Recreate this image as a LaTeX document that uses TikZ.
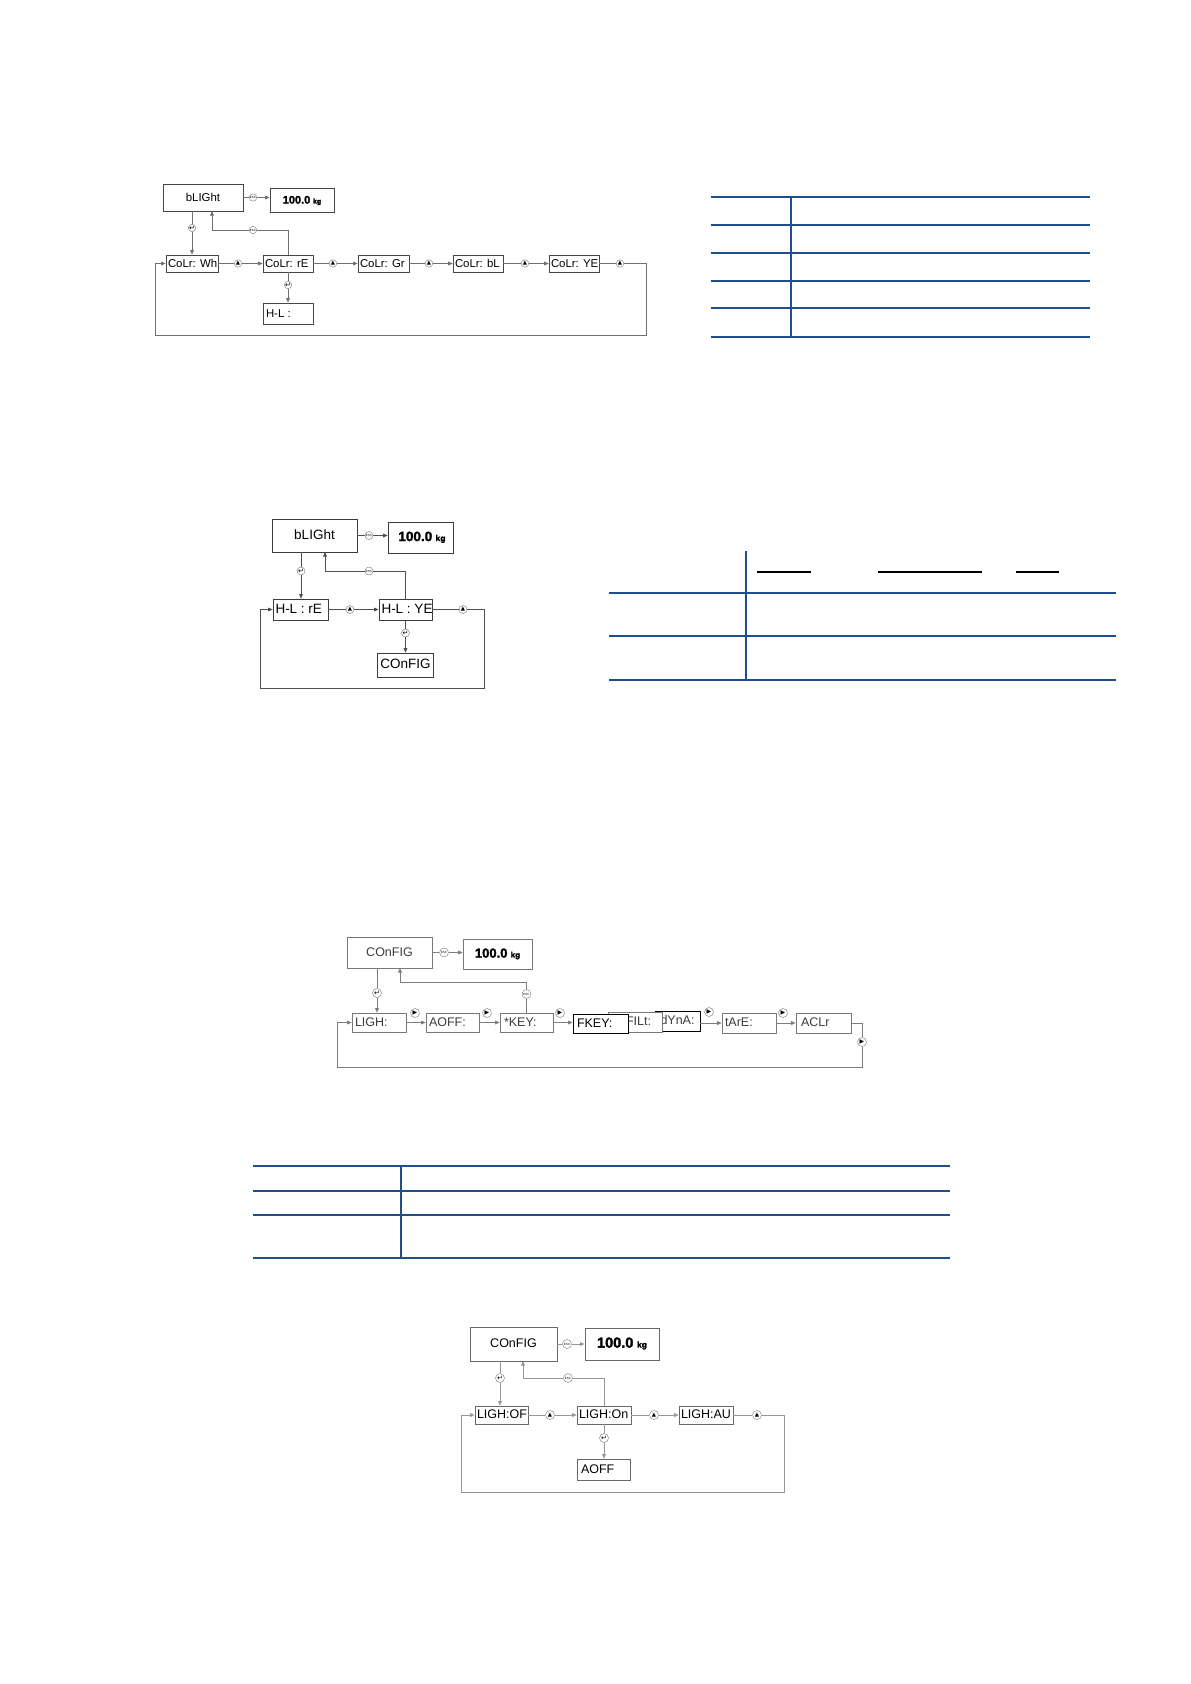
\documentclass[tikz,border=0pt]{standalone}
\usepackage{fontspec}
\setmainfont{Liberation Sans}
\newfontfamily\symfont{DejaVu Sans}
\usetikzlibrary{arrows.meta}
\definecolor{tblue}{RGB}{31,78,140}
\definecolor{boxA}{RGB}{70,70,70}
\definecolor{wireA}{RGB}{112,112,112}
\definecolor{boxB}{RGB}{60,60,60}
\definecolor{wireB}{RGB}{80,80,80}
\definecolor{boxC}{RGB}{120,120,120}
\definecolor{wireC}{RGB}{125,125,125}
\definecolor{boxD}{RGB}{105,105,105}
\definecolor{wireD}{RGB}{150,150,150}
\definecolor{circ}{RGB}{130,130,130}
\definecolor{txtC}{RGB}{60,60,60}
\newcommand\escsym{{\fontsize{3}{3}\selectfont ESC}}
\newcommand\upsym{{\symfont\fontsize{5.5}{5.5}\selectfont ▲}}
\newcommand\rtsym{{\symfont\fontsize{6}{6}\selectfont ▶}}
\newcommand\entsym{{\symfont\fontsize{7}{7}\selectfont ↵}}
\newcommand\ltxt[2]{\hbox to #1{#2\hss}}
\newcommand\kgt[2]{{\fontsize{#1}{#1}\selectfont\bfseries\addfontfeature{FakeBold=2}100.0\hspace{0.25em}{\fontsize{#2}{#2}\selectfont kg}}}
\tikzset{
  bx/.style={draw=#1, fill=white, line width=0.8pt, inner xsep=3pt, inner ysep=0pt, text height=0.72em, text depth=0pt},
  bx/.default=boxA,
  wire/.style={draw=#1, line width=0.7pt},
  wire/.default=wireA,
  arr/.style={draw=#1, line width=0.7pt, -{Triangle[length=4.5pt,width=3.8pt]}},
  arr/.default=wireA,
  sym/.style={circle, draw=circ, fill=white, line width=0.45pt, inner sep=0pt, minimum size=#1},
  sym/.default=8pt,
  tline/.style={draw=tblue, line width=#1},
}
\begin{document}
\begin{tikzpicture}[x=1pt,y=-1pt]
\fill[white] (0,0) rectangle (1191,1684);
\path[use as bounding box] (0,0) rectangle (1191,1684);

% ---------------- Diagram 1 ----------------
\begin{scope}[font=\fontsize{11.4}{12}\selectfont]
\node[bx, minimum width=80pt, minimum height=27pt] (bl1) at (203,197.5) {bLIGht};
\node[bx, minimum width=64pt, minimum height=24pt] (kg1) at (302,200) {\kgt{11}{7}};
\node[bx, inner xsep=2pt, minimum height=17pt] (wh) at (192,263.5) {\ltxt{48pt}{CoLr: Wh}};
\node[bx, inner xsep=2pt, minimum height=17pt] (re) at (288,263.5) {\ltxt{46pt}{CoLr: rE}};
\node[bx, inner xsep=2pt, minimum height=17pt] (gr) at (383.5,263.5) {\ltxt{47pt}{CoLr: Gr}};
\node[bx, inner xsep=2pt, minimum height=17pt] (bL) at (478,263.5) {\ltxt{46pt}{CoLr: bL}};
\node[bx, inner xsep=2pt, minimum height=17pt] (ye) at (574,263.5) {\ltxt{46pt}{CoLr: YE}};
\node[bx, inner xsep=3pt, minimum height=21pt] (hl) at (288,313.5) {\ltxt{44pt}{H-L :}};
\end{scope}
\node[sym=7.5pt] (esc1) at (253,197.5) {\escsym};
\node[sym=7.5pt] (e1) at (192,228) {\entsym};
\node[sym=7.5pt] (escb1) at (253,230) {\escsym};
\node[sym=7.5pt] (u1) at (238,263.5) {\upsym};
\node[sym=7.5pt] (u2) at (333,263.5) {\upsym};
\node[sym=7.5pt] (u3) at (429,263.5) {\upsym};
\node[sym=7.5pt] (u4) at (525,263.5) {\upsym};
\node[sym=7.5pt] (u5) at (620,263.5) {\upsym};
\node[sym=7.5pt] (e2) at (288,285) {\entsym};
\coordinate (bt1) at (212,211);
\coordinate (rb1) at (646,335);
\coordinate (lb1) at (155,335);
\draw[wire] (bl1) -- (esc1);
\draw[arr] (esc1) -- (esc1 -| kg1.west);
\draw[wire] (e1 |- bl1.south) -- (e1);
\draw[arr] (e1) -- (e1 |- wh.north);
\draw[wire] (re.north) |- (escb1);
\draw[arr] (escb1) -| (bt1);
\draw[wire] (wh) -- (u1); \draw[arr] (u1) -- (re);
\draw[wire] (re) -- (u2); \draw[arr] (u2) -- (gr);
\draw[wire] (gr) -- (u3); \draw[arr] (u3) -- (bL);
\draw[wire] (bL) -- (u4); \draw[arr] (u4) -- (ye);
\draw[wire] (ye) -- (u5);
\draw[arr] (u5) -| (rb1) -- (lb1) |- (wh);
\draw[wire] (re) -- (e2);
\draw[arr] (e2) -- (hl);

% ---------------- Table 1 ----------------
\foreach \yy in {197,225,253,281,308,337} \draw[tline=1.2pt] (711,\yy) -- (1090,\yy);
\draw[tline=2pt] (791,197) -- (791,337);

% ---------------- Diagram 2 ----------------
\begin{scope}[font=\fontsize{13.5}{14}\selectfont]
\node[bx=boxB, minimum width=85pt, minimum height=33pt] (bl2) at (314.5,535.5) {bLIGht};
\node[bx=boxB, minimum width=65pt, minimum height=31pt] (kg2) at (420.5,537.5) {\hspace*{3pt}\kgt{13.5}{8.5}};
\node[bx=boxB, inner xsep=2.5pt, minimum height=21pt] (hr) at (300.5,609.5) {\ltxt{50pt}{H-L : rE}};
\node[bx=boxB, inner xsep=2.5pt, minimum height=21pt] (hy) at (405.5,609.5) {\ltxt{48pt}{H-L : YE}};
\node[bx=boxB, minimum width=53pt, minimum height=24pt] (cf2) at (405.5,665) {COnFIG};
\end{scope}
\node[sym] (esc2) at (369,535.5) {\escsym};
\node[sym] (e3) at (301,571) {\entsym};
\node[sym] (escb2) at (369,571) {\escsym};
\node[sym] (u6) at (350,609.5) {\upsym};
\node[sym] (u7) at (463,609.5) {\upsym};
\node[sym] (e4) at (405.5,633) {\entsym};
\coordinate (bt2) at (325,552);
\coordinate (rb2) at (484,688);
\coordinate (lb2) at (260,688);
\draw[wire=wireB] (bl2) -- (esc2);
\draw[arr=wireB] (esc2) -- (esc2 -| kg2.west);
\draw[wire=wireB] (e3 |- bl2.south) -- (e3);
\draw[arr=wireB] (e3) -- (e3 |- hr.north);
\draw[wire=wireB] (hy.north) |- (escb2);
\draw[arr=wireB] (escb2) -| (bt2);
\draw[wire=wireB] (hr) -- (u6); \draw[arr=wireB] (u6) -- (hy);
\draw[wire=wireB] (hy) -- (u7);
\draw[arr=wireB] (u7) -| (rb2) -- (lb2) |- (hr);
\draw[wire=wireB] (hy) -- (e4);
\draw[arr=wireB] (e4) -- (cf2);

% ---------------- Table 2 ----------------
\draw[tline=1.8pt] (746,551) -- (746,680);
\draw[tline=1.8pt] (609,593) -- (1116,593);
\draw[tline=1.8pt] (609,636) -- (1116,636);
\draw[tline=1.2pt] (609,680) -- (1116,680);
\draw[line width=1.8pt] (757,572) -- (811,572);
\draw[line width=1.8pt] (878,572) -- (982,572);
\draw[line width=1.8pt] (1016,572) -- (1059,572);

% ---------------- Diagram 3 ----------------
\begin{scope}[font=\fontsize{12.5}{13}\selectfont, text=txtC]
\node[bx=boxC, minimum width=85pt, minimum height=31pt] (cf3) at (389.5,952.5) {COnFIG};
\node[bx=boxC, minimum width=69pt, minimum height=30pt, text=black] (kg3) at (497.5,954) {\kgt{13}{8}};
\node[bx=boxC, inner xsep=3pt, minimum height=19pt] (lg) at (379,1022.5) {\ltxt{48pt}{LIGH:}};
\node[bx=boxC, inner xsep=3pt, minimum height=19pt] (ao) at (452.5,1022.5) {\ltxt{47pt}{AOFF:}};
\node[bx=boxC, inner xsep=4pt, minimum height=19pt] (ky) at (526.5,1022.5) {\ltxt{45pt}{*KEY:}};
\node[bx=black, inner xsep=3pt, minimum height=20pt] (dy) at (677.5,1021) {\ltxt{39pt}{\hspace*{2.5pt}dYnA:}};
\node[bx=boxC, inner xsep=2pt, minimum height=20pt] (fl) at (635,1022) {\ltxt{50pt}{\hspace*{16pt}FILt:}};
\node[bx=black, inner xsep=4pt, minimum height=19pt, text=black] (fk) at (600.5,1023.5) {\ltxt{47pt}{FKEY:}};
\node[bx=boxC, inner xsep=3pt, minimum height=20pt] (ta) at (749,1023) {\ltxt{48pt}{tArE:}};
\node[bx=boxC, inner xsep=5pt, minimum height=20pt] (ac) at (823.5,1023) {\ltxt{45pt}{ACLr}};
\end{scope}
\node[sym=9pt] (esc3) at (444,952.5) {\escsym};
\node[sym=9pt] (e5) at (377,993) {\entsym};
\node[sym=9pt] (escc3) at (526.5,994) {\escsym};
\node[sym=9pt] (r1) at (415,1013) {\rtsym};
\node[sym=9pt] (r2) at (487,1013) {\rtsym};
\node[sym=9pt] (r3) at (560,1013) {\rtsym};
\node[sym=9pt] (r4) at (709,1012) {\rtsym};
\node[sym=9pt] (r5) at (783,1013) {\rtsym};
\coordinate (k3) at (400,982);
\coordinate (bt3) at (400,968);
\coordinate (rb3) at (862,1067);
\coordinate (lb3) at (337,1067);
\draw[wire=wireC] (cf3) -- (esc3);
\draw[arr=wireC] (esc3) -- (esc3 -| kg3.west);
\draw[wire=wireC] (e5 |- cf3.south) -- (e5);
\draw[arr=wireC] (e5) -- (e5 |- lg.north);
\draw[wire=wireC] (ky.north) -- (escc3);
\draw[arr=wireC] (escc3) |- (k3) -- (bt3);
\draw[arr=wireC] (lg) -- (ao);
\draw[arr=wireC] (ao) -- (ky);
\draw[arr=wireC] (ky) -- (fk.west |- ky);
\draw[arr=wireC] (dy.east |- ta) -- (ta);
\draw[arr=wireC] (ta) -- (ac);
\node[sym=9pt] (r6) at (862,1042) {\rtsym};
\draw[wire=wireC] (ac) -| (r6);
\draw[arr=wireC] (r6) -- (rb3) -- (lb3) |- (lg);

% ---------------- Table 3 ----------------
\draw[tline=1.2pt] (253,1166) -- (950,1166);
\draw[tline=2.6pt] (253,1191) -- (950,1191);
\draw[tline=1.2pt] (253,1215) -- (950,1215);
\draw[tline=1.2pt] (253,1258) -- (950,1258);
\draw[tline=1.2pt] (401,1166) -- (401,1258);

% ---------------- Diagram 4 ----------------
\begin{scope}[font=\fontsize{12.5}{13}\selectfont]
\node[bx=boxD, minimum width=87pt, minimum height=34pt] (cf4) at (513.5,1344) {COnFIG};
\node[bx=boxD, minimum width=74pt, minimum height=32pt] (kg4) at (622,1344) {\kgt{14.5}{8.5}};
\node[bx=boxD, inner xsep=2pt, minimum height=18pt] (lo) at (501.5,1415) {\ltxt{49pt}{LIGH:OF}};
\node[bx=boxD, inner xsep=2pt, minimum height=18pt] (lon) at (604,1415) {\ltxt{50pt}{LIGH:On}};
\node[bx=boxD, inner xsep=2pt, minimum height=18pt] (la) at (706,1415) {\ltxt{50pt}{LIGH:AU}};
\node[bx=boxD, inner xsep=4pt, minimum height=21pt] (ao4) at (603.5,1469.5) {\ltxt{45pt}{AOFF}};
\end{scope}
\node[sym=9pt] (esc4) at (567,1344) {\escsym};
\node[sym=9pt] (e6) at (500,1378) {\entsym};
\node[sym=9pt] (escb4) at (568,1378) {\escsym};
\node[sym=9pt] (u8) at (550,1415) {\upsym};
\node[sym=9pt] (u9) at (654,1415) {\upsym};
\node[sym=9pt] (u10) at (757,1415) {\upsym};
\node[sym=9pt] (e7) at (604,1438) {\entsym};
\coordinate (bt4) at (523,1361);
\coordinate (rb4) at (784,1492);
\coordinate (lb4) at (461,1492);
\draw[wire=wireD] (cf4) -- (esc4);
\draw[arr=wireD] (esc4) -- (esc4 -| kg4.west);
\draw[wire=wireD] (e6 |- cf4.south) -- (e6);
\draw[arr=wireD] (e6) -- (e6 |- lo.north);
\draw[wire=wireD] (lon.north) |- (escb4);
\draw[arr=wireD] (escb4) -| (bt4);
\draw[wire=wireD] (lo) -- (u8); \draw[arr=wireD] (u8) -- (lon);
\draw[wire=wireD] (lon) -- (u9); \draw[arr=wireD] (u9) -- (la);
\draw[wire=wireD] (la) -- (u10);
\draw[arr=wireD] (u10) -| (rb4) -- (lb4) |- (lo);
\draw[wire=wireD] (lon) -- (e7);
\draw[arr=wireD] (e7) -- (e7 |- ao4.north);
\end{tikzpicture}
\end{document}
